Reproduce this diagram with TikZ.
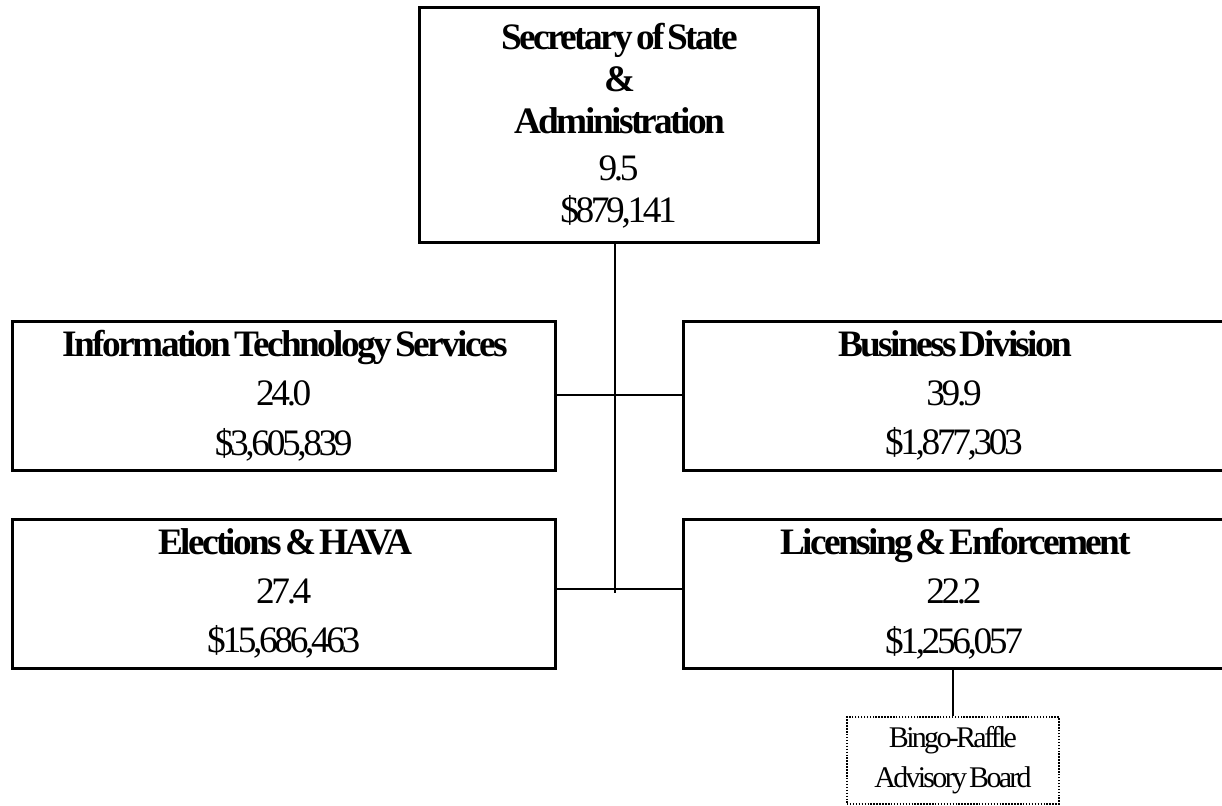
\documentclass[tikz,border=0pt]{standalone}
\usepackage{fontspec}
\setmainfont{Liberation Serif}[LetterSpace=-9, WordSpace=0.45, BoldFeatures={LetterSpace=-7}]
\usepackage{tikz}
\usetikzlibrary{shapes,arrows}

\tikzset{
  unitbox/.style={draw, rectangle, line width=2.25pt, align=center, inner sep=0pt},
  topfont/.style={font=\fontsize{28}{31.5}\selectfont},
  divfont/.style={font=\fontsize{28}{37}\selectfont},
  boardbox/.style={draw, rectangle, line width=1.1pt, dash pattern=on 1.1pt off 1.1pt, align=center, inner sep=0pt, font=\fontsize{22.5}{30}\selectfont},
  link/.style={line width=1pt}
}

\begin{document}
\begin{tikzpicture}[x=0.75pt, y=-0.75pt]
    \useasboundingbox (0, 0) rectangle (1222, 806);
    \node[unitbox, topfont, minimum width=399*0.75pt, minimum height=235*0.75pt] (sos) at (618.5, 125.5) {\textbf{Secretary of State}\\\textbf{\&}\\\textbf{Administration}\\[3.5pt]9.5\\\$879,141};
    \node[unitbox, divfont, minimum width=542.5*0.75pt, minimum height=149*0.75pt] (its) at (283.75, 395.5) {\textbf{Information Technology Services}\\24.0\\\$3,605,839};
    \node[unitbox, divfont, minimum width=542*0.75pt, minimum height=149*0.75pt] (biz) at (954, 395.5) {\textbf{Business Division}\\39.9\\\$1,877,303};
    \node[unitbox, divfont, minimum width=542.5*0.75pt, minimum height=149*0.75pt] (elec) at (283.75, 593.5) {\textbf{Elections \& HAVA}\\27.4\\\$15,686,463};
    \node[unitbox, divfont, minimum width=542*0.75pt, minimum height=149*0.75pt] (lic) at (954, 593.5) {\textbf{Licensing \& Enforcement}\\22.2\\\$1,256,057};
    \node[boardbox, minimum width=212*0.75pt, minimum height=87*0.75pt] (bingo) at (953, 760.5) {Bingo-Raffle\\Advisory Board};
    \coordinate (hubtop) at (615, 395);
    \coordinate (hubbot) at (615, 589);
    \coordinate (spine) at (615, 593);
    \draw[link] (sos.south -| spine) -- (spine);
    \draw[link] (its.east |- hubtop) -- (biz.west |- hubtop);
    \draw[link] (elec.east |- hubbot) -- (lic.west |- hubbot);
    \draw[link] (bingo.north) -- (bingo.north |- lic.south);
\end{tikzpicture}
\end{document}
